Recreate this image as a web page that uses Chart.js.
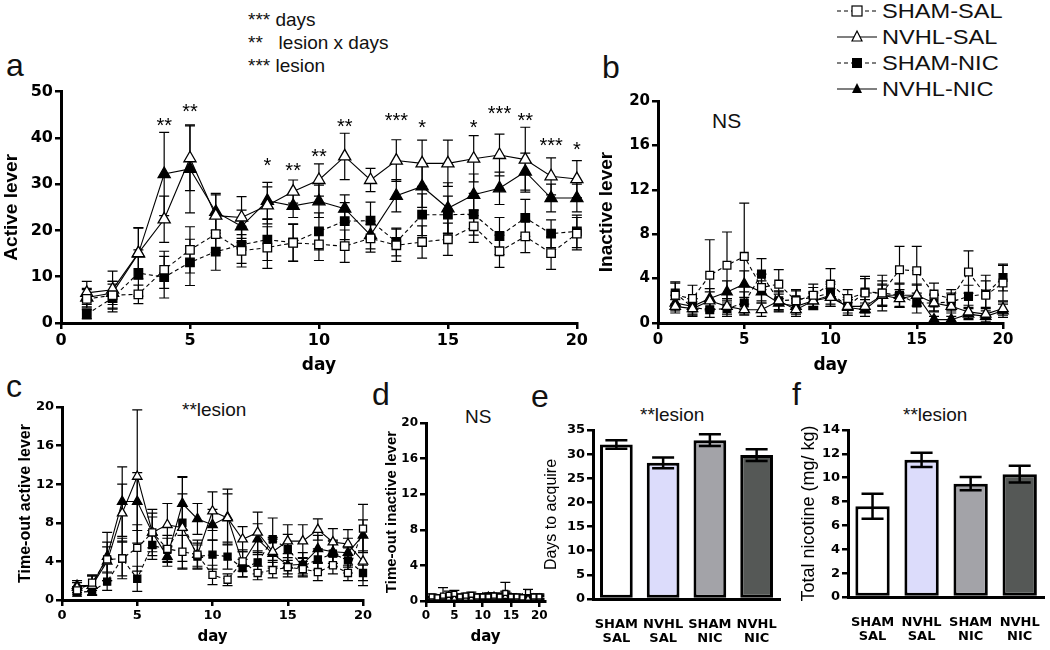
<!DOCTYPE html>
<html>
<head>
<meta charset="utf-8">
<script src="https://cdn.jsdelivr.net/npm/chart.js@4.4.0/dist/chart.umd.min.js"></script>
<style>
body { margin: 0; width: 1050px; height: 650px; background: #fff; position: relative; overflow: hidden; font-family: "Liberation Sans", Arial, sans-serif; }
canvas { position: absolute; }
.txt { position: absolute; white-space: nowrap; color: #111; line-height: 1; }
.lg { position: absolute; left: 882px; font-size: 20px; transform-origin: left center; transform: scaleX(1.18); }
.let { position: absolute; font-size: 32px; line-height: 1; color: #111; }
</style>
</head>
<body>

<div class="txt" style="left:248px;top:10px;font-size:19px">*** days</div>
<div class="txt" style="left:248px;top:33px;font-size:19px">**&nbsp;&nbsp;&nbsp;lesion x days</div>
<div class="txt" style="left:248px;top:56px;font-size:19px">*** lesion</div>

<svg style="position:absolute;left:830px;top:0" width="52" height="100">
  <g stroke="#000" stroke-width="1.2" fill="none">
    <line x1="7" y1="11" x2="47" y2="11" stroke-dasharray="4,3"/>
    <line x1="7" y1="37" x2="47" y2="37"/>
    <line x1="7" y1="63" x2="47" y2="63" stroke-dasharray="4,3"/>
    <line x1="7" y1="89" x2="47" y2="89"/>
  </g>
  <rect x="22" y="6" width="10" height="10" fill="#fff" stroke="#000" stroke-width="1.2"/>
  <polygon points="27,31 32,41 22,41" fill="#fff" stroke="#000" stroke-width="1.2"/>
  <rect x="22" y="58" width="10" height="10" fill="#000"/>
  <polygon points="27,83 32,93 22,93" fill="#000"/>
</svg>
<div class="txt lg" style="top:1px">SHAM-SAL</div>
<div class="txt lg" style="top:27px">NVHL-SAL</div>
<div class="txt lg" style="top:53px">SHAM-NIC</div>
<div class="txt lg" style="top:79px">NVHL-NIC</div>

<div class="let" style="left:6px;top:49px">a</div>
<div class="let" style="left:602px;top:51px">b</div>
<div class="let" style="left:6px;top:370px">c</div>
<div class="let" style="left:372px;top:378px">d</div>
<div class="let" style="left:531px;top:380px">e</div>
<div class="let" style="left:792px;top:378px">f</div>

<div class="txt" style="left:712px;top:110px;font-size:21px">NS</div>
<div class="txt" style="left:182px;top:400px;font-size:19px">**lesion</div>
<div class="txt" style="left:465px;top:407px;font-size:19px">NS</div>
<div class="txt" style="left:640px;top:405px;font-size:19px">**lesion</div>
<div class="txt" style="left:903px;top:405px;font-size:19px">**lesion</div>

<canvas id="chA" width="590" height="300" style="left:0;top:80px"></canvas>
<canvas id="chB" width="440" height="290" style="left:595px;top:90px"></canvas>
<canvas id="chC" width="364" height="255" style="left:16px;top:395px"></canvas>
<canvas id="chD" width="172" height="240" style="left:383px;top:410px"></canvas>
<canvas id="chE" width="248" height="230" style="left:542px;top:420px"></canvas>
<canvas id="chF" width="252" height="230" style="left:798px;top:420px"></canvas>

<script>
// ---- data ----
const days = [1, 2, 3, 4, 5, 6, 7, 8, 9, 10, 11, 12, 13, 14, 15, 16, 17, 18, 19, 20];
const dayTicks = [0, 5, 10, 15, 20];

// a: active lever
const actShamSal = [5.2, 6.0, 6.2, 11.5, 15.8, 19.2, 15.6, 16.3, 17.3, 17.0, 16.6, 18.3, 16.8, 17.5, 18.1, 20.9, 15.5, 18.7, 15.1, 19.3];
const actShamSalErr = [2, 3, 2, 4, 5, 4, 3.5, 4.5, 4, 3.5, 3.5, 3, 3.5, 3.5, 3.5, 3.5, 3.5, 3.5, 3.5, 3.5];
const actNvhlSal = [6.5, 7.2, 15.1, 22.4, 35.6, 23.2, 22.8, 25.4, 28.4, 30.9, 36.0, 30.9, 35.1, 34.5, 34.5, 35.5, 36.3, 35.3, 31.7, 31.1];
const actNvhlSalErr = [2.5, 4, 5.5, 5, 7, 4.5, 4.5, 4, 2.5, 3.5, 5, 2.5, 4.5, 5, 5, 5, 4.5, 7, 4, 4];
const actShamNic = [1.9, 5.4, 10.8, 9.9, 13.1, 15.4, 16.9, 18.0, 17.4, 19.8, 22.0, 22.1, 17.5, 23.4, 23.4, 23.5, 18.8, 22.7, 19.3, 19.8];
const actShamNicErr = [1, 3, 5, 4.5, 5, 4, 4, 4.5, 4, 4, 4, 4, 3, 4.5, 4, 4.5, 4, 4, 3, 3.5];
const actNvhlNic = [5.5, 6.5, 15.0, 32.2, 33.3, 24.0, 20.9, 26.4, 25.3, 26.3, 24.7, 19.0, 27.5, 29.5, 24.8, 27.7, 29.1, 32.7, 27.0, 27.0];
const actNvhlNicErr = [2, 2.5, 5.5, 9, 9.5, 4, 3.5, 4, 2.5, 3.5, 3, 3, 3.5, 4.5, 5.5, 4.5, 3.5, 4, 3, 3];
const starDays = [4, 5, 8, 9, 10, 11, 13, 14, 16, 17, 18, 19, 20];
const starText = ['**', '**', '*', '**', '**', '**', '***', '*', '*', '***', '**', '***', '*'];
const starLevel = [43.4, 46.4, 34.6, 33.5, 36.7, 43.2, 44.3, 42.8, 43, 46, 44.5, 39, 38.2];

// b: inactive lever
const inaShamSal = [2.5, 2.2, 4.3, 5.2, 6.0, 3.2, 3.5, 2.0, 2.5, 3.5, 2.2, 2.7, 2.7, 4.8, 4.7, 2.6, 2.2, 4.6, 2.5, 3.6];
const inaShamSalErr = [1.1, 1.2, 3.2, 3.0, 4.8, 1.2, 1.3, 1.0, 1.0, 1.4, 0.8, 1.5, 1.6, 2.1, 2.2, 1.0, 0.8, 1.9, 1.8, 1.6];
const inaNvhlSal = [1.5, 1.3, 2.0, 1.5, 1.2, 1.2, 2.0, 1.2, 2.0, 2.3, 1.5, 1.5, 2.5, 2.2, 2.5, 1.8, 1.5, 1.0, 0.8, 1.3];
const inaNvhlSalErr = [0.6, 0.6, 0.8, 0.7, 0.5, 0.6, 0.8, 0.6, 0.7, 0.8, 0.6, 0.6, 0.9, 0.8, 0.9, 0.7, 0.6, 0.6, 0.5, 0.6];
const inaShamNic = [2.7, 1.4, 1.2, 1.3, 1.8, 4.4, 2.0, 2.1, 2.3, 2.7, 1.5, 2.8, 2.7, 2.5, 1.8, 1.8, 1.9, 2.4, 2.6, 4.1];
const inaShamNicErr = [1.0, 0.8, 0.7, 0.7, 1.0, 1.4, 0.9, 0.8, 0.9, 1.0, 0.8, 1.2, 1.1, 1.1, 0.9, 0.8, 0.8, 1.0, 1.2, 1.2];
const inaNvhlNic = [1.8, 1.5, 2.2, 2.8, 3.5, 2.8, 1.8, 1.5, 2.0, 2.5, 1.4, 1.2, 2.5, 2.5, 2.5, 0.3, 0.3, 0.8, 0.6, 1.1];
const inaNvhlNicErr = [0.7, 0.7, 0.9, 1.0, 1.2, 1.0, 0.8, 0.7, 0.8, 1.0, 0.7, 0.6, 1.0, 1.0, 1.0, 0.3, 0.3, 0.5, 0.5, 0.6];

// c: time-out active lever
const toaShamSal = [1.0, 1.8, 4.2, 4.3, 5.4, 7.0, 5.3, 5.0, 4.7, 2.6, 2.1, 4.0, 2.8, 3.1, 3.4, 3.2, 2.9, 3.6, 2.8, 7.4];
const toaShamSalErr = [0.4, 0.8, 1.3, 1.8, 2.4, 1.6, 1.4, 1.7, 1.2, 1.0, 0.6, 1.0, 0.7, 0.8, 0.7, 0.8, 0.9, 0.9, 0.8, 2.5];
const toaNvhlSal = [1.3, 1.5, 4.0, 9.0, 12.8, 7.0, 7.8, 7.5, 4.7, 9.2, 8.5, 6.3, 7.0, 5.0, 6.1, 6.1, 7.3, 6.0, 5.8, 4.0];
const toaNvhlSalErr = [0.5, 1.0, 2.0, 3.0, 6.9, 2.0, 2.2, 3.5, 1.5, 2.0, 2.5, 1.3, 2.1, 1.5, 1.7, 1.7, 1.1, 1.4, 1.5, 2.5];
const toaShamNic = [0.8, 0.9, 1.9, 4.3, 2.2, 5.7, 5.2, 8.0, 4.5, 4.7, 4.5, 3.3, 3.9, 6.3, 5.3, 3.5, 4.2, 4.8, 4.1, 2.8];
const toaShamNicErr = [0.4, 0.4, 0.9, 2.1, 1.3, 1.5, 1.2, 4.8, 1.2, 1.5, 1.3, 0.9, 1.2, 2.2, 1.5, 0.8, 1.1, 1.3, 1.3, 0.8];
const toaNvhlNic = [1.5, 1.5, 4.5, 10.2, 10.2, 7.0, 4.5, 10.0, 8.4, 7.8, 8.6, 3.8, 6.3, 4.8, 3.6, 3.7, 5.3, 5.0, 4.9, 6.7];
const toaNvhlNicErr = [0.5, 1.0, 2.5, 3.6, 3.0, 2.4, 1.0, 2.7, 1.6, 1.6, 2.9, 1.4, 1.6, 1.5, 1.2, 1.2, 1.4, 1.2, 1.5, 1.6];

// d: time-out inactive lever
const toiShamSal = [0.5, 0.4, 0.6, 0.7, 0.8, 0.5, 0.6, 0.7, 0.5, 0.5, 0.5, 0.6, 0.5, 0.9, 0.5, 0.5, 0.4, 1.0, 0.5, 0.5];
const toiShamSalErr = [0.3, 0.3, 0.9, 0.4, 0.4, 0.3, 0.3, 0.3, 0.3, 0.3, 0.3, 0.3, 0.3, 1.2, 0.3, 0.3, 0.3, 0.3, 0.3, 0.3];
const toiNvhlSal = [0.3, 0.3, 0.4, 0.3, 0.3, 0.3, 0.3, 0.3, 0.3, 0.4, 0.4, 0.4, 0.4, 0.5, 0.4, 0.3, 0.3, 0.3, 0.3, 0.3];
const toiShamNic = [0.3, 0.3, 0.3, 0.4, 0.3, 0.3, 0.3, 0.4, 0.4, 0.5, 0.6, 0.5, 0.5, 0.6, 0.5, 0.4, 0.4, 0.4, 0.5, 0.5];
const toiNvhlNic = [0.2, 0.2, 0.3, 0.3, 0.3, 0.2, 0.3, 0.3, 0.4, 0.5, 0.6, 0.6, 0.5, 0.7, 0.5, 0.4, 0.4, 0.4, 0.4, 0.4];
const toiSmallErr = [0.2, 0.2, 0.3, 0.2, 0.2, 0.2, 0.2, 0.2, 0.3, 0.3, 0.3, 0.3, 0.3, 0.4, 0.3, 0.2, 0.2, 0.2, 0.2, 0.2];

// e, f: bar panels
const groups = [['SHAM', 'SAL'], ['NVHL', 'SAL'], ['SHAM', 'NIC'], ['NVHL', 'NIC']];
const groupColors = ['#ffffff', '#dcdcfb', '#a3a3a8', '#555856'];
const daysToAcquire = [32.0, 28.2, 32.9, 29.8];
const daysToAcquireErr = [0.9, 1.1, 1.2, 1.2];
const totalNicotine = [7.6, 11.5, 9.5, 10.3];
const totalNicotineErr = [1.05, 0.6, 0.55, 0.7];

// ---- plugins ----
const errorBars = {
    id: 'errorBars',
    draw(chart, opts) {
        const ctx = chart.ctx;
        chart.data.datasets.forEach((ds, i) => {
            if (!ds.errors) return;
            const meta = chart.getDatasetMeta(i);
            const yScale = chart.scales[meta.yAxisID];
            ctx.save();
            ctx.strokeStyle = '#000';
            ctx.lineWidth = opts.width || 1.2;
            meta.data.forEach((el, j) => {
                const v = typeof ds.data[j] === 'object' ? ds.data[j].y : ds.data[j];
                const e = ds.errors[j];
                const top = yScale.getPixelForValue(v + e);
                const bot = yScale.getPixelForValue(Math.max(0, v - e));
                const cap = opts.cap || 5;
                ctx.beginPath();
                ctx.moveTo(el.x, top); ctx.lineTo(el.x, bot);
                ctx.moveTo(el.x - cap, top); ctx.lineTo(el.x + cap, top);
                ctx.moveTo(el.x - cap, bot); ctx.lineTo(el.x + cap, bot);
                ctx.stroke();
            });
            ctx.restore();
        });
    },
    beforeDatasetsDraw(chart, args, opts) { if (!opts.after) this.draw(chart, opts); },
    afterDatasetsDraw(chart, args, opts) { if (opts.after) this.draw(chart, opts); }
};

const starMarks = {
    id: 'starMarks',
    afterDatasetsDraw(chart, args, opts) {
        if (!opts.days) return;
        const ctx = chart.ctx;
        ctx.save();
        ctx.fillStyle = '#000';
        ctx.font = '20px "Liberation Sans", Arial';
        ctx.textAlign = 'center';
        ctx.textBaseline = 'middle';
        opts.days.forEach((d, i) => {
            const x = chart.scales.x.getPixelForValue(d);
            const y = chart.scales.y.getPixelForValue(opts.levels[i]);
            ctx.fillText(opts.labels[i], x, y + 4);
        });
        ctx.restore();
    }
};

// ---- helpers ----
const TICKFONT = 'DejaVu Sans';

function xy(vals) {
    return vals.map((v, i) => ({ x: days[i], y: v }));
}

function series(vals, errs, open, tri, r) {
    return {
        data: xy(vals),
        errors: errs,
        borderColor: '#000',
        borderWidth: 1.1,
        borderDash: tri ? [] : [4, 3],
        pointStyle: tri ? 'triangle' : 'rect',
        pointRadius: r,
        pointBackgroundColor: open ? '#fff' : '#000',
        pointBorderColor: '#000',
        pointBorderWidth: 1.3,
        tension: 0,
        clip: false
    };
}

function yAxis(max, step, tickSize, title, titleSize, titleBold, width) {
    return {
        min: 0, max: max,
        ticks: { stepSize: step, color: '#000', padding: 2, font: { family: TICKFONT, weight: 'bold', size: tickSize } },
        grid: { display: true, drawOnChartArea: false, drawTicks: true, tickLength: 6, color: '#000', lineWidth: 2.5 },
        border: { display: true, color: '#000', width: 3 },
        title: { display: true, text: title, color: '#000', padding: 0,
                 font: { family: '"Liberation Sans", Arial', weight: titleBold ? 'bold' : 'normal', size: titleSize } },
        afterFit: s => { s.width = width; }
    };
}

function xDay(max, tickSize, titleSize, height) {
    return {
        type: 'linear', min: 0, max: max,
        ticks: { autoSkip: false, maxRotation: 0, color: '#000', padding: 2,
                 font: { family: TICKFONT, weight: 'bold', size: tickSize } },
        afterBuildTicks: s => { s.ticks = dayTicks.map(v => ({ value: v })); },
        grid: { display: true, drawOnChartArea: false, drawTicks: true, tickLength: 6, color: '#000', lineWidth: 2.5 },
        border: { display: true, color: '#000', width: 3 },
        title: { display: true, text: 'day', color: '#000', padding: { top: 4 },
                 font: { family: TICKFONT, weight: 'bold', size: titleSize } },
        afterFit: s => { s.height = height; }
    };
}

function lineChart(id, sets, x, y, pad, extra) {
    new Chart(document.getElementById(id), {
        type: 'line',
        data: { datasets: sets },
        options: {
            responsive: false,
            animation: false,
            layout: { padding: pad },
            scales: { x: x, y: y },
            plugins: Object.assign({ legend: { display: false }, tooltip: { enabled: false },
                                     errorBars: { width: 1.2, cap: 5 } }, extra || {})
        },
        plugins: [errorBars, starMarks]
    });
}

function barChart(id, vals, errs, y, pad, labelSize, xHeight) {
    new Chart(document.getElementById(id), {
        type: 'bar',
        data: {
            labels: groups,
            datasets: [{
                data: vals,
                errors: errs,
                backgroundColor: groupColors,
                borderColor: '#000',
                borderWidth: 3,
                borderSkipped: false,
                barPercentage: 0.7,
                categoryPercentage: 1.0
            }]
        },
        options: {
            responsive: false,
            animation: false,
            layout: { padding: pad },
            scales: {
                x: {
                    ticks: { color: '#000', padding: 10, autoSkip: false, maxRotation: 0, minRotation: 0,
                             font: { family: TICKFONT, weight: 'bold', size: labelSize, lineHeight: 1.1 } },
                    grid: { display: false },
                    border: { display: true, color: '#000', width: 3 },
                    afterFit: s => { s.height = xHeight; }
                },
                y: y
            },
            plugins: { legend: { display: false }, tooltip: { enabled: false },
                       errorBars: { width: 2.5, cap: 11, after: true } }
        },
        plugins: [errorBars]
    });
}

// ---- panel a ----
lineChart('chA', [
    series(actShamSal, actShamSalErr, true, false, 6),
    series(actNvhlSal, actNvhlSalErr, true, true, 7),
    series(actShamNic, actShamNicErr, false, false, 6),
    series(actNvhlNic, actNvhlNicErr, false, true, 7)
], xDay(20, 16, 17, 57), yAxis(50, 10, 16, 'Active lever', 19, true, 61),
   { left: 0, top: 11, right: 13, bottom: 0 },
   { starMarks: { days: starDays, labels: starText, levels: starLevel } });

// ---- panel b ----
lineChart('chB', [
    series(inaShamSal, inaShamSalErr, true, false, 5.5),
    series(inaNvhlSal, inaNvhlSalErr, true, true, 6),
    series(inaShamNic, inaShamNicErr, false, false, 5.5),
    series(inaNvhlNic, inaNvhlNicErr, false, true, 6)
], xDay(20, 15, 17, 57), yAxis(20, 4, 15, 'Inactive lever', 19, true, 63),
   { left: 0, top: 10, right: 32, bottom: 0 });

// ---- panel c ----
lineChart('chC', [
    series(toaShamSal, toaShamSalErr, true, false, 5),
    series(toaNvhlSal, toaNvhlSalErr, true, true, 5.5),
    series(toaShamNic, toaShamNicErr, false, false, 5),
    series(toaNvhlNic, toaNvhlNicErr, false, true, 5.5)
], xDay(20, 13, 15, 50), yAxis(20, 4, 13, 'Time-out active lever', 16, true, 46),
   { left: 0, top: 12, right: 17, bottom: 0 });

// ---- panel d ----
lineChart('chD', [
    series(toiShamSal, toiShamSalErr, true, false, 3.5),
    series(toiNvhlSal, toiSmallErr, true, true, 3.5),
    series(toiShamNic, toiSmallErr, false, false, 3.5),
    series(toiNvhlNic, toiSmallErr, false, true, 3.5)
], xDay(21, 12, 15, 49), yAxis(20, 4, 12, 'Time-out inactive lever', 15, true, 43),
   { left: 0, top: 13, right: 10, bottom: 0 });

// ---- panel e ----
barChart('chE', daysToAcquire, daysToAcquireErr,
    yAxis(35, 5, 13, 'Days to acquire', 16, false, 51),
    { left: 0, top: 10, right: 10, bottom: 0 }, 13, 51);

// ---- panel f ----
barChart('chF', totalNicotine, totalNicotineErr,
    yAxis(14, 2, 13, 'Total nicotine (mg/ kg)', 18, false, 50),
    { left: 0, top: 10, right: 2, bottom: 0 }, 13, 53);
</script>
</body>
</html>
